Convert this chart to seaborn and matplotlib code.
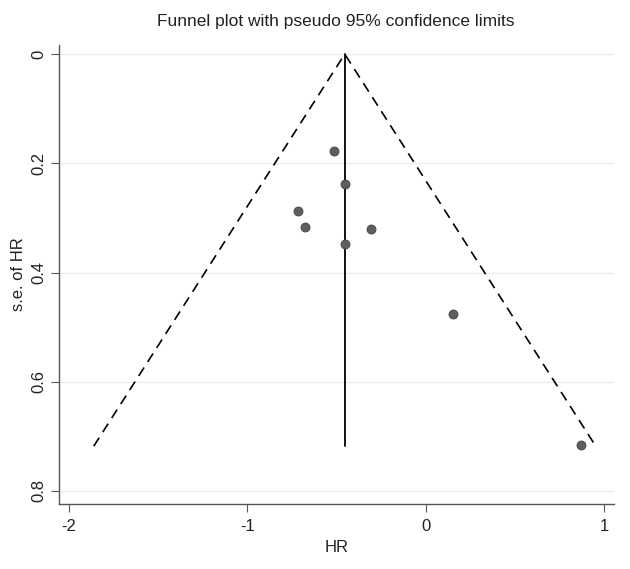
import matplotlib
matplotlib.use("Agg")
import matplotlib.pyplot as plt
import pandas as pd
import seaborn as sns

# Study estimates
hr = [-0.514, -0.450, -0.716, -0.675, -0.305, -0.450, 0.153, 0.869]
se_hr = [0.177, 0.237, 0.287, 0.317, 0.321, 0.348, 0.476, 0.716]

# Pooled estimate and largest s.e. define the pseudo 95% limits
pooled = -0.454
se_max = 0.718
y_ticks = [0, 0.2, 0.4, 0.6, 0.8]
x_ticks = [-2, -1, 0, 1]

df = pd.DataFrame({"HR": hr, "se": se_hr})
limits = pd.DataFrame({
    "HR": [pooled - 1.96 * se_max, pooled, pooled + 1.96 * se_max],
    "se": [se_max, 0, se_max],
})

sns.set_style("white")
plt.rcParams["font.family"] = ["Liberation Sans", "DejaVu Sans"]

fig = plt.figure(figsize=(6.3, 5.69), dpi=100)
ax = fig.add_axes([0.0937, 0.1142, 0.881, 0.807])

for t in y_ticks:
    ax.axhline(t, color="#ececec", lw=0.9, zorder=0)

# funnel limits
ax.plot(limits["HR"], limits["se"], color="black", lw=1.2,
        linestyle=(0, (6, 4)), zorder=2)
# pooled estimate line
ax.plot([pooled, pooled], [0, se_max], color="black", lw=1.3, zorder=2)

sns.scatterplot(data=df, x="HR", y="se", ax=ax, s=42, color="#5e5e5e",
                edgecolor="#444444", linewidth=0.6, zorder=3)

ax.set_xlim(-2.056, 1.056)
ax.set_ylim(0.824, -0.017)
ax.set_xticks(x_ticks)
ax.set_xticklabels([str(v) for v in x_ticks])
ax.set_yticks(y_ticks)
ax.set_yticklabels(["0", "0.2", "0.4", "0.6", "0.8"], rotation=90, va="center")

for side in ["top", "right"]:
    ax.spines[side].set_visible(False)
for side in ["left", "bottom"]:
    ax.spines[side].set_color("#555555")
    ax.spines[side].set_linewidth(1.0)

ax.tick_params(axis="both", direction="out", length=6, width=0.8,
               bottom=True, left=True,
               color="#555555", labelsize=12, labelcolor="#222222", pad=3)
ax.tick_params(axis="x", pad=5)

ax.set_xlabel("HR", fontsize=12, color="#222222", labelpad=4)
ax.set_ylabel("s.e. of HR", fontsize=12, color="#222222", labelpad=4)
fig.suptitle("Funnel plot with pseudo 95% confidence limits", x=0.533, y=0.975,
             fontsize=12.5, color="#222222")

fig.savefig("out.png", dpi=100)
